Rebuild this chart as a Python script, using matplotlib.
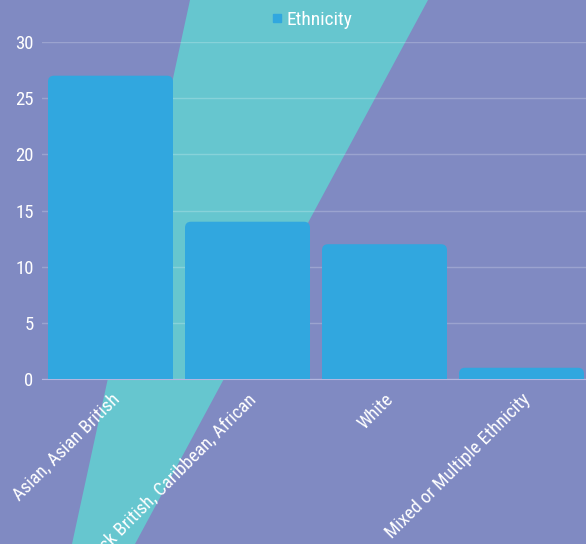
import matplotlib
matplotlib.use("Agg")
import matplotlib.pyplot as plt
from matplotlib.patches import Polygon, FancyBboxPatch
from matplotlib.lines import Line2D
from matplotlib import font_manager

# data
categories = ["Asian, Asian British", "Black, Black British, Caribbean, African",
              "White", "Mixed or Multiple Ethnicity"]
counts = [27, 14, 12, 1]
series_name = "Ethnicity"
yticks = [0, 5, 10, 15, 20, 25, 30]

bg = "#808ac2"
wedge = "#66c6cf"
bar_col = "#31a7df"

names = {f.name for f in font_manager.fontManager.ttflist}
fam = "Roboto Condensed" if "Roboto Condensed" in names else "Roboto"
plt.rcParams["font.family"] = [fam, "DejaVu Sans"]

fig = plt.figure(figsize=(5.86, 5.44), dpi=100, facecolor=bg)

# teal band behind the chart
W, H = 586.0, 544.0
pts = [(190, 0), (428, 0), (135, 544), (72, 544)]
fig.patches.append(Polygon([(x / W, 1 - y / H) for x, y in pts], closed=True,
                           transform=fig.transFigure, facecolor=wedge,
                           edgecolor="none", zorder=0))

ax = fig.add_axes([42 / W, 1 - 379 / H, 548 / W, 337 / H])
ax.set_facecolor("none")
ax.set_zorder(1)

x = list(range(len(categories)))
bw = 125 / 137.0
bars = ax.bar(x, counts, width=bw, color=bar_col, zorder=2)

# round the top corners
rx = 6 / 137.0
ry = 6 / (337 / 30.0)
for b in bars:
    h = b.get_height()
    b.set_height(h - ry)
    ax.add_patch(FancyBboxPatch((b.get_x(), 0), b.get_width(), h,
                                boxstyle=f"round,pad=0,rounding_size={rx}",
                                mutation_aspect=ry / rx, facecolor=bar_col,
                                edgecolor="none", zorder=2))

ax.set_xlim(-0.5, len(categories) - 0.5)
ax.set_ylim(0, 30)
ax.set_yticks(yticks)
ax.grid(axis="y", color="white", alpha=0.22, linewidth=1, zorder=0)
ax.set_axisbelow(True)
for s in ["top", "right", "left"]:
    ax.spines[s].set_visible(False)
ax.spines["bottom"].set_color("#b4b6e0")
ax.spines["bottom"].set_zorder(1)
ax.tick_params(axis="both", length=0, colors="white", labelsize=13.5)
ax.tick_params(axis="y", pad=6)
ax.set_xticks(x)
ax.set_xticklabels(categories, rotation=45, ha="right", rotation_mode="anchor",
                   va="top", fontsize=13.5)
ax.tick_params(axis="x", pad=8)

handle = Line2D([], [], linestyle="none", marker="s", markersize=6,
                color=bar_col)
leg = ax.legend([handle], [series_name], loc="center",
                bbox_to_anchor=(0.49, 1 + 22 / 337.0), frameon=False,
                fontsize=14, handletextpad=0.1, handlelength=0.8)
for t in leg.get_texts():
    t.set_color("white")

fig.savefig("out.png", dpi=100, facecolor=bg)
